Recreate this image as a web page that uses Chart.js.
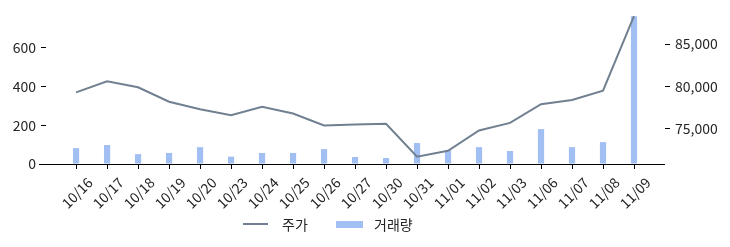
<!DOCTYPE html>
<html>
<head>
<meta charset="utf-8">
<script src="https://cdn.jsdelivr.net/npm/chart.js@4"></script>
<style>
  html, body { margin: 0; padding: 0; background: #fff; }
  #wrap { position: relative; width: 730px; height: 247px; }
  #legend { position: absolute; left: 0; top: 214px; width: 730px; height: 20px;
    font-family: "Noto Sans CJK KR", "Noto Sans", sans-serif; font-size: 14px; color: #262626; }
  .sw { position: absolute; }
  .tx { position: absolute; top: 0; line-height: 20px; }
</style>
</head>
<body>
<div id="wrap">
  <canvas id="c" width="730" height="247"></canvas>
  <div id="legend"></div>
</div>
<script>
const labels = ['10/16','10/17','10/18','10/19','10/20','10/23','10/24','10/25','10/26','10/27','10/30','10/31','11/01','11/02','11/03','11/06','11/07','11/08','11/09'];
const price = [79300, 80600, 79900, 78200, 77300, 76600, 77600, 76800, 75400, 75500, 75600, 71700, 72400, 74800, 75700, 77900, 78400, 79500, 88300];
const volume = [82, 98, 51, 57, 87, 38, 57, 57, 77, 36, 31, 108, 70, 87, 67, 180, 87, 113, 761];
const seriesNames = ['주가', '거래량'];
const leftTicks = [0, 200, 400, 600];
const rightTicks = [75000, 80000, 85000];

const lineColor = '#708090';
const barColor = 'rgba(100,149,237,0.6)';
const textColor = '#262626';
const FONT = '"Noto Sans CJK KR", "Noto Sans", sans-serif';

// legend (HTML)
const lg = document.getElementById('legend');
lg.innerHTML =
  '<div class="sw" style="left:243px;top:9px;width:25px;height:2px;background:' + lineColor + '"></div>' +
  '<div class="tx" style="left:282px">' + seriesNames[0] + '</div>' +
  '<div class="sw" style="left:336px;top:7px;width:27px;height:7px;background:' + barColor + '"></div>' +
  '<div class="tx" style="left:374px">' + seriesNames[1] + '</div>';

const bottomLine = {
  id: 'bottomLine',
  afterDatasetsDraw(chart) {
    const ctx = chart.ctx, a = chart.chartArea;
    ctx.save();
    ctx.strokeStyle = '#000';
    ctx.lineWidth = 1;
    ctx.beginPath();
    ctx.moveTo(39, Math.round(a.bottom) + 0.5);
    ctx.lineTo(a.right, Math.round(a.bottom) + 0.5);
    ctx.stroke();
    ctx.restore();
  }
};

new Chart(document.getElementById('c'), {
  type: 'bar',
  data: {
    datasets: [
      {
        type: 'line', label: seriesNames[0],
        data: labels.map((l, i) => ({x: i, y: price[i]})),
        borderColor: lineColor, borderWidth: 2, pointRadius: 0, tension: 0,
        yAxisID: 'y2', order: 0
      },
      {
        type: 'bar', label: seriesNames[1],
        data: labels.map((l, i) => ({x: i, y: volume[i]})),
        backgroundColor: barColor, borderWidth: 0,
        categoryPercentage: 1, barPercentage: 0.2,
        yAxisID: 'y', order: 1
      }
    ]
  },
  options: {
    responsive: false,
    animation: false,
    devicePixelRatio: 1,
    layout: { padding: { top: 9, left: 0, right: 0, bottom: 0 } },
    plugins: { legend: { display: false }, tooltip: { enabled: false } },
    scales: {
      x: {
        type: 'linear', offset: false, min: -0.97, max: 19,
        afterBuildTicks(s) { s.ticks = labels.map((l, i) => ({value: i})); },
        afterFit(s) { s.height = 83; s.paddingLeft = 0; s.paddingRight = 0; },
        grid: { display: true, offset: false, drawOnChartArea: false, drawTicks: true, tickLength: 5, color: '#000', tickColor: '#000' },
        border: { display: false },
        ticks: {
          autoSkip: false, maxRotation: 45, minRotation: 45, padding: 5, labelOffset: 14,
          color: textColor, font: { family: FONT, size: 14 },
          callback: (v) => labels[v] !== undefined ? labels[v] : ''
        }
      },
      y: {
        position: 'left', min: 0, max: 799,
        afterBuildTicks(s) { s.ticks = leftTicks.map(v => ({value: v})); },
        afterFit(s) { s.width = 46; s.paddingTop = 0; s.paddingBottom = 0; },
        grid: { display: true, drawOnChartArea: false, drawTicks: true, tickLength: 5, tickColor: '#000' },
        border: { display: false },
        ticks: { padding: 5, color: textColor, font: { family: FONT, size: 14 } }
      },
      y2: {
        position: 'right', min: 70848, max: 89141,
        afterBuildTicks(s) { s.ticks = rightTicks.map(v => ({value: v})); },
        afterFit(s) { s.width = 65; s.paddingTop = 0; s.paddingBottom = 0; },
        grid: { display: true, drawOnChartArea: false, drawTicks: true, tickLength: 5, tickColor: '#000' },
        border: { display: false },
        ticks: { padding: 5, color: textColor, font: { family: FONT, size: 14 },
          callback: (v) => v.toLocaleString('en-US') }
      }
    }
  },
  plugins: [bottomLine]
});
</script>
</body>
</html>
